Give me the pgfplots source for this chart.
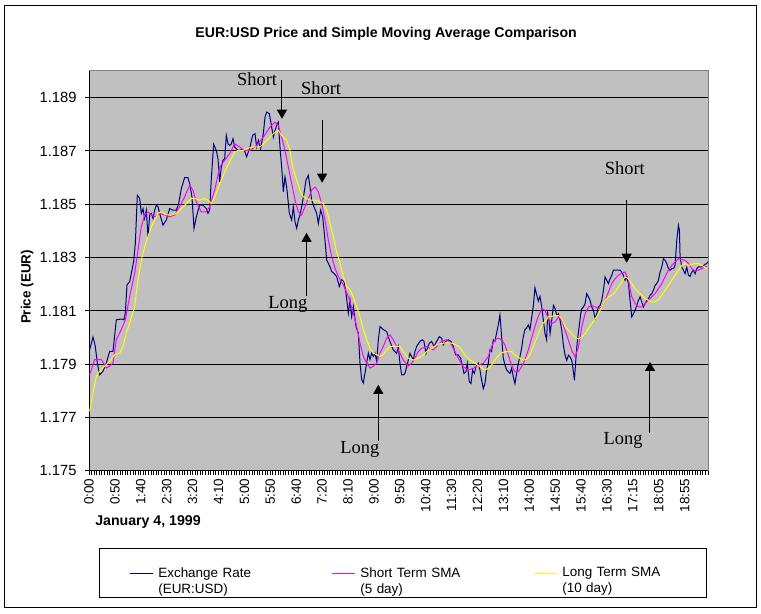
\documentclass[border=0pt]{standalone}
\usepackage{fontspec}
\setmainfont{Liberation Sans}
\newfontfamily\annfont{Liberation Serif}
\usepackage{pgfplots}
\pgfplotsset{compat=1.18}
\usetikzlibrary{arrows.meta}
\definecolor{plotbg}{HTML}{C0C0C0}
\definecolor{plotedge}{HTML}{808080}
\definecolor{rate}{HTML}{000080}
\definecolor{shortsma}{HTML}{FF00FF}
\definecolor{longsma}{HTML}{FFFF00}

\begin{document}
\begin{tikzpicture}
\useasboundingbox (0bp,0bp) rectangle (761bp,614bp);
\draw[black, line width=1bp] (4bp,6bp) rectangle (756bp,608bp);
\begin{axis}[
  at={(89bp,143bp)}, anchor=south west,
  scale only axis, width=619bp, height=400bp,
  xmin=0, xmax=239, ymin=1.175, ymax=1.190,
  axis background/.style={fill=plotbg, draw=plotedge, line width=1bp},
  axis x line*=bottom, axis y line*=left,
  axis line style={black, line width=1bp},
  xtick={0,10,...,230},
  xticklabels={0:00,0:50,1:40,2:30,3:20,4:10,5:00,5:50,6:40,7:20,8:10,9:00,
    9:50,10:40,11:30,12:20,13:10,14:00,14:50,15:40,16:30,17:15,18:05,18:55},
  minor xtick={0,1,...,239},
  ytick={1.175,1.177,1.179,1.181,1.183,1.185,1.187,1.189},
  ymajorgrids, major grid style={black, line width=1bp},
  tick style={black, line width=1bp},
  major tick length=4bp, minor tick length=4bp,
  tick align=outside,
  scaled y ticks=false,
  /pgf/number format/fixed, /pgf/number format/fixed zerofill,
  /pgf/number format/precision=3, /pgf/number format/assume math mode=true,
  yticklabel style={xshift=-5bp, font=\fontsize{14.8}{16}\selectfont},
  xticklabel style={rotate=90, anchor=east, font=\fontsize{13.5}{15}\selectfont},
  title={EUR:USD Price and Simple Moving Average Comparison},
  title style={at={(axis description cs:0.48,1.078)}, anchor=center,
    font=\bfseries\fontsize{14.2}{16}\selectfont},
  ylabel={Price (EUR)},
  ylabel style={at={(axis description cs:-0.1,0.46)}, anchor=center,
    font=\bfseries\fontsize{13.5}{15}\selectfont},
  xlabel={January 4, 1999},
  xlabel style={at={(axis description cs:0.0953,-0.1275)}, anchor=center,
    font=\bfseries\fontsize{14.2}{16}\selectfont},
  legend columns=3,
  legend image code/.code={\draw[#1] (0bp,0bp) -- (23bp,0bp);},
  legend style={at={(axis description cs:0.507,-0.255)}, anchor=center,
    draw=black, line width=1bp, fill=white, inner xsep=30bp, inner ysep=17bp,
    font=\fontsize{13.5}{16}\selectfont,
    nodes={text width=112bp, align=left, inner xsep=2bp},
    /tikz/every odd column/.append style={column sep=3bp},
    /tikz/every even column/.append style={column sep=59bp}},
]

% exchange rate
\addplot[draw=rate, line width=1bp] coordinates {
(0.25,1.17955)(1.54,1.18002)(2.44,1.17967)(3.21,1.17905)(4.11,1.17861)(5.40,1.17874)
(6.69,1.17905)(7.98,1.17949)(9.26,1.17949)(10.55,1.18067)(12.48,1.1807)(13.51,1.18067)
(14.02,1.18092)(14.67,1.18198)(15.7,1.1821)(16.34,1.18241)(17.24,1.18285)(17.89,1.18354)
(18.66,1.18534)(19.56,1.18522)(20.2,1.18466)(20.85,1.18484)(21.49,1.18447)(22.13,1.18478)
(22.78,1.18379)(23.42,1.1846)(24.06,1.18466)(24.71,1.18447)(25.35,1.18478)(26.0,1.18497)
(26.64,1.18491)(27.28,1.18466)(28.57,1.18422)(29.85,1.18441)(31.14,1.18484)(32.43,1.18478)
(33.72,1.18478)(34.62,1.18503)(35.65,1.18559)(36.93,1.186)(38.22,1.186)(38.86,1.18578)
(39.76,1.18528)(40.54,1.1841)(41.44,1.18453)(42.72,1.18497)(44.01,1.18497)(45.3,1.18484)
(45.94,1.18466)(46.59,1.18478)(47.23,1.18597)(48.13,1.18725)(49.16,1.18702)(49.8,1.18671)
(50.45,1.18584)(51.09,1.1864)(51.73,1.18665)(52.38,1.18671)(53.02,1.18759)(53.66,1.18727)
(54.31,1.18721)(54.95,1.18727)(55.6,1.18746)(56.24,1.18715)(57.53,1.18702)(58.81,1.18705)
(60.1,1.187)(60.87,1.18678)(62.16,1.18715)(63.19,1.18759)(64.09,1.18765)(64.73,1.18715)
(65.38,1.1874)(66.28,1.18709)(67.31,1.18765)(67.95,1.18827)(68.6,1.18846)(69.63,1.1884)
(70.53,1.1879)(71.17,1.18752)(71.81,1.18777)(72.46,1.18796)(73.1,1.18808)(73.74,1.18715)
(74.39,1.1864)(75.03,1.18547)(75.67,1.18603)(76.32,1.18565)(77.35,1.18466)(78.25,1.18441)
(78.89,1.18491)(79.54,1.18435)(80.18,1.1841)(80.82,1.18441)(81.47,1.1846)(82.11,1.18491)
(83.01,1.18541)(83.78,1.1859)(84.68,1.18609)(85.33,1.18565)(85.97,1.18516)(86.87,1.18491)
(87.9,1.18466)(88.54,1.18428)(89.45,1.18478)(90.22,1.18453)(91.12,1.18366)(91.76,1.18291)
(92.41,1.18279)(93.05,1.18266)(93.69,1.18248)(94.59,1.18241)(95.62,1.18229)(96.65,1.18192)
(97.55,1.18217)(98.45,1.1821)(99.23,1.18167)(100.13,1.18092)(100.77,1.18142)(101.41,1.18079)
(102.06,1.18117)(103.09,1.18042)(103.99,1.18017)(104.63,1.17905)(105.28,1.17843)(105.92,1.1783)
(106.56,1.17868)(107.21,1.17905)(107.85,1.17942)(108.49,1.17918)(109.14,1.17942)(109.78,1.1793)
(110.42,1.17942)(111.07,1.17911)(111.71,1.17992)(112.35,1.18042)(113.64,1.1803)(114.93,1.18023)
(115.96,1.17992)(117.49,1.17954)(118.77,1.17941)(119.42,1.17967)(120.06,1.17904)(120.7,1.1786)
(121.35,1.1786)(121.99,1.17866)(122.64,1.17891)(123.28,1.17916)(123.92,1.17941)(124.57,1.17929)
(125.21,1.17916)(125.85,1.17948)(126.5,1.17967)(127.78,1.17986)(128.68,1.17992)(129.33,1.17986)
(130.1,1.17941)(130.61,1.1796)(131.39,1.17979)(132.29,1.17986)(133.19,1.17967)(134.22,1.17986)
(135.25,1.18004)(136.15,1.17998)(136.79,1.17973)(137.69,1.17986)(138.72,1.17992)(139.75,1.17986)
(140.65,1.17967)(141.55,1.17935)(142.58,1.17935)(143.48,1.17923)(144.26,1.17891)(144.77,1.17866)
(145.54,1.17872)(146.06,1.17904)(146.83,1.17835)(147.47,1.17828)(148.12,1.17879)(148.76,1.17866)
(149.41,1.17891)(150.31,1.17904)(150.95,1.17879)(151.59,1.17841)(152.24,1.17809)(152.88,1.17828)
(153.52,1.17879)(154.17,1.17904)(154.81,1.17954)(155.45,1.17948)(156.1,1.17992)(156.74,1.17986)
(157.38,1.18017)(158.03,1.18048)(158.67,1.18086)(159.31,1.18004)(159.96,1.17923)(160.6,1.17898)
(161.25,1.17879)(161.89,1.17872)(162.53,1.17866)(163.18,1.17885)(163.82,1.17853)(164.46,1.17828)
(165.11,1.17866)(165.75,1.17904)(166.39,1.17929)(167.04,1.1796)(167.68,1.18004)(168.32,1.1803)
(168.97,1.18036)(169.61,1.18048)(170.25,1.1803)(170.9,1.18074)(171.54,1.18118)(172.18,1.18187)
(172.83,1.18162)(173.47,1.18137)(174.12,1.18155)(174.76,1.18118)(175.4,1.18067)(176.05,1.18017)
(176.69,1.17992)(177.1,1.1809)(177.6,1.18065)(178.03,1.18015)(178.67,1.18065)(179.32,1.18121)
(179.96,1.18109)(180.6,1.18084)(181.25,1.1809)(181.89,1.18065)(182.53,1.18028)(183.18,1.17971)
(183.82,1.17934)(184.47,1.17915)(185.11,1.17934)(185.75,1.17928)(186.4,1.17915)(187.04,1.17871)
(187.43,1.1784)(187.94,1.17915)(188.58,1.1799)(189.23,1.1804)(189.87,1.1809)(190.26,1.18109)
(190.9,1.18115)(191.54,1.18128)(192.19,1.18165)(192.83,1.18153)(193.47,1.1814)(194.12,1.18115)
(194.76,1.18103)(195.41,1.18071)(196.05,1.1809)(196.69,1.18115)(197.34,1.18121)(197.98,1.1814)
(198.62,1.18178)(199.27,1.18228)(199.91,1.18215)(200.55,1.18203)(201.2,1.18221)(201.84,1.18234)
(202.48,1.18253)(203.77,1.18253)(205.06,1.18253)(205.7,1.18246)(206.34,1.18234)(206.99,1.18215)
(207.63,1.18228)(208.28,1.18203)(208.92,1.1814)(209.56,1.18078)(210.21,1.1809)(210.85,1.18103)
(211.49,1.18121)(212.14,1.1814)(212.78,1.18153)(213.42,1.18134)(214.07,1.18115)(214.71,1.18128)
(215.35,1.1814)(216.0,1.18146)(216.64,1.18159)(217.28,1.18165)(217.93,1.18178)(218.57,1.18196)
(219.21,1.18203)(219.86,1.18215)(220.5,1.18246)(221.15,1.18265)(221.79,1.18296)(222.43,1.1829)
(223.08,1.18278)(223.72,1.18259)(224.36,1.18253)(225.01,1.18259)(225.65,1.18259)(226.29,1.18271)
(226.94,1.18365)(227.58,1.18421)(227.97,1.18403)(228.22,1.18303)(228.87,1.18265)(229.51,1.18253)
(230.15,1.1824)(230.8,1.18265)(231.44,1.18234)(232.08,1.1823)(232.73,1.18246)(233.37,1.18253)
(234.02,1.1824)(234.66,1.18259)(235.3,1.18265)(236.59,1.18265)(237.88,1.18275)(238.52,1.18278)
(239,1.18285)
};
\addlegendentry{Exchange Rate\\(EUR:USD)}

% short term SMA (5)
\addplot[draw=shortsma, line width=1bp] coordinates {
(0.25,1.17861)(2.18,1.17918)(4.76,1.17918)(6.69,1.17886)(7.98,1.17893)(9.26,1.17905)
(10.55,1.17992)(12.48,1.1803)(14.02,1.18067)(15.7,1.18154)(17.63,1.18241)(18.92,1.18329)
(20.2,1.18416)(21.49,1.1846)(22.78,1.18472)(24.06,1.1846)(25.35,1.18453)(27.28,1.18466)
(29.21,1.1846)(31.14,1.18453)(33.07,1.1846)(35.0,1.18491)(36.93,1.18528)(38.86,1.18572)
(40.15,1.18553)(41.44,1.18509)(43.37,1.18472)(45.3,1.18472)(46.59,1.18491)(48.52,1.18553)
(50.45,1.1864)(52.38,1.18665)(54.31,1.1869)(56.24,1.18727)(58.17,1.18715)(60.1,1.18702)
(62.16,1.18702)(64.73,1.18721)(67.31,1.18752)(69.88,1.1879)(71.81,1.18808)(73.1,1.18796)
(74.39,1.18752)(75.67,1.18702)(76.96,1.1864)(78.25,1.18578)(79.54,1.18516)(80.82,1.18472)
(82.11,1.1846)(83.4,1.18491)(84.68,1.18522)(85.97,1.18553)(87.26,1.18565)(88.54,1.18547)
(89.83,1.18503)(91.12,1.18441)(92.41,1.18366)(93.69,1.18304)(94.98,1.1826)(96.27,1.18229)
(98.2,1.18198)(100.13,1.18154)(102.06,1.18092)(103.35,1.18042)(104.63,1.1798)(105.92,1.1793)
(107.21,1.17905)(108.49,1.17886)(109.78,1.17893)(111.07,1.17905)(112.35,1.17942)(113.64,1.17967)
(114.93,1.17998)(116.22,1.1801)(117.5,1.17992)(118.79,1.17967)(121.35,1.17916)(123.28,1.17894)
(124.57,1.17904)(125.85,1.17923)(127.14,1.17948)(128.43,1.1796)(130.36,1.17967)(131.64,1.1796)
(132.93,1.17954)(134.86,1.17973)(136.15,1.17986)(138.08,1.17992)(139.37,1.17982)(140.65,1.1796)
(142.58,1.17923)(144.51,1.17891)(146.44,1.17879)(148.38,1.17885)(150.31,1.17897)(152.24,1.17904)
(154.17,1.17929)(155.45,1.17967)(156.74,1.17992)(158.03,1.17998)(159.31,1.17992)(160.6,1.17973)
(161.89,1.17935)(163.18,1.17897)(164.46,1.17872)(165.75,1.17872)(167.04,1.17891)(168.32,1.17916)
(169.61,1.17954)(170.9,1.17998)(172.18,1.18042)(173.47,1.1808)(174.76,1.18108)(176.05,1.18103)
(177.39,1.18071)(178.67,1.18053)(179.96,1.18059)(181.25,1.18078)(182.53,1.18065)(183.82,1.18028)
(185.11,1.1799)(186.4,1.17953)(187.68,1.17928)(188.97,1.17965)(190.26,1.1804)(191.54,1.1809)
(192.83,1.18115)(194.12,1.18121)(195.41,1.18115)(196.69,1.18109)(197.98,1.18115)(199.27,1.1814)
(200.55,1.18171)(201.84,1.18203)(203.13,1.18221)(204.41,1.18234)(205.7,1.18243)(206.99,1.18246)
(208.28,1.18215)(209.56,1.18153)(210.85,1.18128)(212.14,1.18115)(213.42,1.18115)(214.71,1.18128)
(216.0,1.1814)(217.28,1.18153)(218.57,1.18165)(219.86,1.18184)(221.15,1.18203)(222.43,1.18228)
(223.72,1.18253)(225.01,1.18271)(226.29,1.18284)(227.58,1.18296)(228.87,1.18293)(230.15,1.1829)
(231.44,1.18278)(232.73,1.18259)(234.02,1.1825)(235.3,1.18253)(236.59,1.18259)(238.52,1.18268)
};
\addlegendentry{Short Term SMA\\(5 day)}

% long term SMA (10)
\addplot[draw=longsma, line width=1bp] coordinates {
(0.25,1.17724)(1.54,1.17793)(2.83,1.17855)(4.11,1.17874)(6.05,1.17893)(7.98,1.17911)
(9.91,1.17936)(11.84,1.17942)(13.12,1.17967)(14.41,1.18017)(15.7,1.18055)(17.63,1.18117)
(18.92,1.18217)(20.2,1.18291)(21.49,1.18341)(22.78,1.18379)(24.06,1.18416)(25.35,1.18441)
(26.64,1.18466)(27.92,1.18472)(29.85,1.1846)(31.79,1.1846)(33.72,1.18466)(35.65,1.18484)
(37.58,1.18503)(39.51,1.18522)(40.79,1.18522)(42.72,1.18516)(44.66,1.18522)(45.94,1.18516)
(47.23,1.18503)(48.52,1.18528)(49.8,1.18559)(51.09,1.1859)(52.38,1.18622)(53.66,1.18646)
(54.95,1.18671)(56.24,1.18696)(57.53,1.18702)(59.46,1.18702)(60.87,1.18709)(63.45,1.18715)
(66.02,1.18715)(67.31,1.18727)(69.24,1.18746)(71.17,1.18765)(73.1,1.18777)(74.39,1.18759)
(76.32,1.1874)(77.61,1.18702)(78.63,1.1864)(80.18,1.1859)(81.47,1.18553)(82.75,1.18528)
(84.04,1.18522)(85.33,1.18516)(87.26,1.18516)(89.19,1.18509)(90.47,1.18503)(91.76,1.18478)
(93.05,1.18428)(94.34,1.18379)(95.62,1.18322)(96.91,1.18279)(98.2,1.18229)(99.48,1.18192)
(100.77,1.18179)(102.06,1.18154)(103.35,1.18117)(104.63,1.18079)(105.92,1.1803)(107.21,1.17992)
(108.49,1.17961)(109.78,1.17942)(111.07,1.17936)(112.35,1.1793)(113.64,1.17936)(114.93,1.17955)
(116.22,1.17967)(117.49,1.17967)(120.06,1.17967)(121.35,1.17948)(123.28,1.17923)(125.21,1.17916)
(127.14,1.17923)(129.07,1.17935)(130.36,1.17948)(132.29,1.1796)(134.22,1.17973)(135.5,1.17977)
(136.79,1.17979)(138.72,1.17982)(140.65,1.17977)(142.58,1.17969)(143.87,1.17954)(145.16,1.17935)
(147.09,1.17916)(149.02,1.17904)(150.95,1.17891)(152.88,1.17879)(154.81,1.17889)(156.1,1.17906)
(157.38,1.17926)(159.31,1.17944)(161.25,1.17948)(163.18,1.17948)(164.46,1.17935)(166.39,1.17923)
(167.68,1.17916)(168.97,1.17919)(170.25,1.17935)(171.54,1.17967)(172.83,1.17998)(174.12,1.1803)
(175.4,1.18055)(176.69,1.18067)(177.39,1.1808)(178.67,1.1808)(179.96,1.18084)(181.25,1.18084)
(182.53,1.18071)(183.82,1.1804)(185.11,1.18028)(186.4,1.18015)(187.68,1.18)(188.97,1.17996)
(190.26,1.18003)(191.54,1.18015)(192.83,1.18034)(194.12,1.18053)(195.41,1.18071)(196.69,1.1809)
(197.98,1.18115)(199.27,1.1814)(200.55,1.18153)(201.84,1.18159)(203.13,1.18171)(204.41,1.1819)
(205.7,1.18209)(206.99,1.18228)(208.28,1.18221)(209.56,1.18203)(210.85,1.18184)(212.14,1.18171)
(213.42,1.18159)(214.71,1.18146)(216.0,1.1814)(217.28,1.18134)(218.57,1.18134)(219.86,1.18143)
(221.15,1.18159)(222.43,1.18178)(223.72,1.18196)(225.01,1.18215)(226.29,1.18234)(227.58,1.18253)
(228.87,1.18271)(230.15,1.18278)(231.44,1.18271)(232.73,1.18275)(234.02,1.18278)(235.3,1.18278)
(236.59,1.18271)(238.52,1.18259)
};
\addlegendentry{Long Term SMA\\(10 day)}

% annotations
\tikzset{ann/.style={font=\annfont\fontsize{18.5}{20}\selectfont},
  arr/.style={black, line width=1bp, -{Triangle[width=10bp,length=9bp]}}}
\node[ann] at (axis cs:64.9,1.18968) {Short};
\draw[arr] (axis cs:74.5,1.18968) -- (axis cs:74.5,1.18821);
\node[ann] at (axis cs:89.6,1.18934) {Short};
\draw[arr] (axis cs:90.0,1.18817) -- (axis cs:90.0,1.18581);
\node[ann] at (axis cs:76.8,1.18123) {Long};
\draw[arr] (axis cs:84.0,1.18157) -- (axis cs:84.0,1.18393);
\node[ann] at (axis cs:104.6,1.17579) {Long};
\draw[arr] (axis cs:111.7,1.17613) -- (axis cs:111.7,1.17823);
\node[ann] at (axis cs:206.9,1.18634) {Short};
\draw[arr] (axis cs:207.6,1.18517) -- (axis cs:207.6,1.18281);
\node[ann] at (axis cs:206.2,1.17613) {Long};
\draw[arr] (axis cs:216.6,1.17643) -- (axis cs:216.6,1.17909);
\end{axis}
\end{tikzpicture}
\end{document}
